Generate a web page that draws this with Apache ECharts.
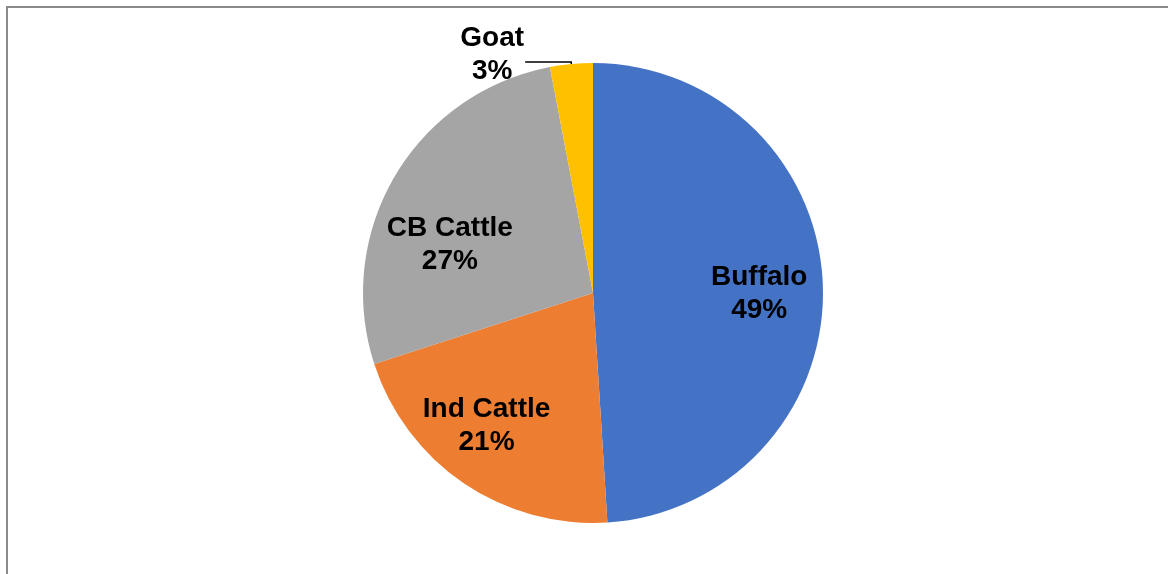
<!DOCTYPE html>
<html>
<head>
<meta charset="utf-8">
<script src="https://cdn.jsdelivr.net/npm/echarts@6/dist/echarts.min.js"></script>
<style>
  html, body { margin: 0; padding: 0; background: #fff; }
  #chart { width: 1168px; height: 574px; }
</style>
</head>
<body>
<div id="chart"></div>
<script>
// animal categories and their share (%)
const categories = ['Buffalo', 'Ind Cattle', 'CB Cattle', 'Goat'];
const shares = [49, 21, 27, 3];
const colors = ['#4472C4', '#ED7D31', '#A5A5A5', '#FFC000'];

const CENTER = [593, 293];
const R = 230;

const labelFont = {
  color: '#000',
  fontFamily: 'Liberation Sans, Arial, sans-serif',
  fontWeight: 'bold',
  fontSize: 28,
  lineHeight: 33
};

let chart = echarts.init(document.getElementById('chart'));

// visible pie, only the small slice gets an outside label
const pieData = categories.map((name, i) => {
  let item = { name: name, value: shares[i], itemStyle: { color: colors[i] } };
  if (name === 'Goat') {
    item.label = Object.assign({
      show: true,
      position: 'outside',
      formatter: '{t|{b}}\n{t|{d}%}',
      padding: [0, 0, 15, 0],
      distanceToLabelLine: 0,
      rich: { t: Object.assign({ width: 66, align: 'center' }, labelFont) }
    }, labelFont);
    item.labelLine = {
      show: true,
      length: 2,
      length2: 46,
      lineStyle: { color: '#000', width: 1.5 }
    };
  }
  return item;
});

// transparent twin pie, just to push the inside labels further out
const labelData = categories.map((name, i) => ({
  name: name,
  value: shares[i],
  label: { show: name !== 'Goat' }
}));

chart.setOption({
  backgroundColor: '#fff',
  animation: false,
  graphic: [{
    type: 'rect',
    shape: { x: 7, y: 7, width: 1300, height: 700 },
    style: { fill: 'none', stroke: '#8a8a8a', lineWidth: 2 },
    silent: true
  }],
  series: [
    {
      type: 'pie',
      center: CENTER,
      radius: [0, R],
      startAngle: 90,
      clockwise: true,
      percentPrecision: 0,
      label: { show: false },
      labelLine: { show: false },
      emphasis: { disabled: true },
      data: pieData
    },
    {
      type: 'pie',
      center: CENTER,
      radius: [0, R * 1.42],
      startAngle: 90,
      clockwise: true,
      silent: true,
      percentPrecision: 0,
      itemStyle: { color: 'transparent' },
      label: Object.assign({
        position: 'inside',
        formatter: '{b}\n{d}%'
      }, labelFont),
      labelLayout: function (p) {
        // small nudges towards where the original placed them
        if (p.dataIndex === 0) return { dy: 6 };
        if (p.dataIndex === 1) return { dx: -13, dy: -5 };
        if (p.dataIndex === 2) return { dy: 36 };
      },
      labelLine: { show: false },
      emphasis: { disabled: true },
      data: labelData
    }
  ]
});
</script>
</body>
</html>
